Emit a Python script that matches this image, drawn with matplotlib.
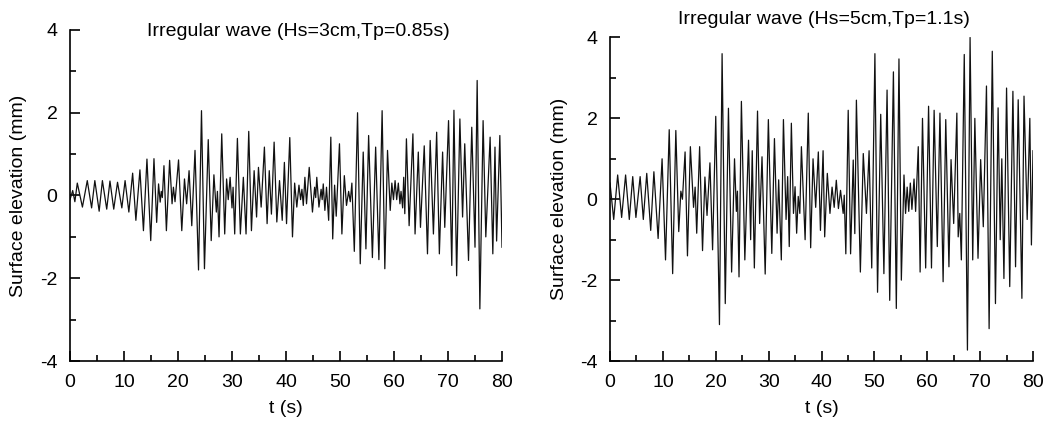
import numpy as np
import matplotlib
matplotlib.use('Agg')
import matplotlib.pyplot as plt
from matplotlib.ticker import MultipleLocator

plt.rcParams['font.family'] = ['Liberation Sans', 'DejaVu Sans']
plt.rcParams['axes.unicode_minus'] = False

# crests / troughs, Hs=3cm Tp=0.85s
t_3cm = [0.0, 0.5, 0.9, 1.35, 2.3, 3.2, 4.0, 4.6, 5.4, 6.0, 6.8, 7.4, 8.1, 8.8, 9.6, 10.2, 10.9, 11.6, 12.2, 12.95,
         13.6, 14.25, 14.95, 15.55, 16.05, 16.4, 16.7, 16.9, 17.1, 17.4, 17.85, 18.45, 18.9, 19.15, 19.45, 20.1, 20.7,
         21.2, 21.6, 22.05, 22.55, 23.15, 23.8, 24.35, 24.9, 25.6, 26.15, 26.65, 27.1, 27.3, 27.6, 28.1, 28.65, 29.0,
         29.3, 29.65, 30.0, 30.2, 30.5, 31.0, 31.55, 32.1, 32.6, 33.1, 33.6, 34.1, 34.55, 34.9, 35.4, 36.0, 36.5, 36.9,
         37.3, 37.8, 38.3, 38.8, 39.3, 39.7, 40.1, 40.7, 41.2, 41.6, 42.0, 42.4, 42.7, 42.95, 43.2, 43.5, 43.8, 44.3,
         44.9, 45.3, 45.5, 45.7, 46.1, 46.5, 46.7, 46.9, 47.2, 47.5, 47.9, 48.3, 48.65, 49.0, 49.3, 49.9, 50.35, 50.8,
         51.2, 51.6, 51.9, 52.2, 52.65, 53.25, 53.75, 54.3, 54.8, 55.3, 56.0, 56.6, 57.2, 57.8, 58.3, 58.8, 59.3, 59.6,
         59.9, 60.2, 60.5, 60.8, 61.1, 61.3, 61.6, 61.8, 62.0, 62.3, 62.8, 63.5, 63.9, 64.5, 64.9, 65.6, 66.2, 66.7,
         67.3, 67.9, 68.4, 69.0, 69.4, 70.1, 70.7, 71.1, 71.6, 72.2, 72.7, 73.1, 73.8, 74.4, 75.0, 75.4, 75.9, 76.5,
         77.0, 77.8, 78.3, 78.7, 79.0, 79.6, 80.0]
eta_3cm = [-0.1, 0.12, -0.15, 0.3, -0.28, 0.36, -0.3, 0.36, -0.38, 0.36, -0.33, 0.35, -0.33, 0.32, -0.3, 0.36, -0.4,
           0.54, -0.6, 0.62, -0.85, 0.88, -1.09, 0.89, -0.65, 0.28, -0.16, 0.1, -0.05, 0.72, -0.85, 0.85, -0.2, 0.2,
           -0.15, 0.86, -0.85, 0.4, -0.2, 0.6, -0.73, 1.09, -1.8, 2.05, -1.77, 1.35, -1.09, 0.5, -0.4, 0.1, -1.0, 1.49,
           -0.93, 0.4, -0.1, 0.44, -0.3, 0.2, -0.93, 1.38, -0.93, 0.44, -0.93, 1.55, -0.85, 0.6, -0.52, 0.68, -0.28,
           1.17, -0.68, 0.6, -0.45, 1.29, -0.64, 0.36, -0.6, 0.8, -0.68, 1.4, -1.0, 0.3, -0.28, 0.25, -0.1, 0.15, -0.24,
           0.44, -0.2, 0.68, -0.4, 0.2, -0.05, 0.44, -0.28, 0.15, -0.1, 0.28, -0.36, 0.2, -0.6, 1.41, -1.05, 0.25, -0.5,
           1.25, -0.93, 0.48, -0.24, 0.1, -0.15, 0.3, -1.35, 2.0, -1.65, 1.05, -1.29, 1.45, -1.5, 1.17, -1.55, 2.05,
           -1.77, 1.09, -0.36, 0.3, -0.1, 0.36, -0.1, 0.3, -0.2, 0.1, -0.3, 0.44, -0.44, 1.37, -0.73, 1.49, -0.93, 1.05,
           -0.77, 1.2, -1.41, 1.33, -0.93, 1.53, -1.41, 1.05, -0.77, 1.81, -1.69, 2.06, -1.94, 1.85, -0.52, 1.25, -1.57,
           1.65, -1.25, 2.78, -2.74, 1.81, -1.0, 1.41, -1.41, 1.17, -1.1, 1.45, -1.25]

# Hs=5cm Tp=1.1s
t_5cm = [0.0, 0.7, 1.45, 2.2, 2.95, 3.65, 4.3, 4.9, 5.7, 6.3, 6.95, 7.7, 8.3, 9.1, 9.85, 10.5, 11.2, 11.85, 12.45,
         13.0, 13.4, 13.7, 14.2, 14.65, 15.2, 15.8, 16.1, 16.4, 16.95, 17.5, 17.95, 18.35, 18.9, 19.4, 20.0, 20.7,
         21.2, 21.8, 22.4, 23.0, 23.55, 23.9, 24.1, 24.4, 24.85, 25.5, 26.2, 26.6, 26.9, 27.3, 27.9, 28.3, 28.75,
         29.35, 29.95, 30.6, 31.1, 31.6, 31.9, 32.4, 32.8, 33.3, 33.6, 33.9, 34.3, 34.7, 35.0, 35.3, 35.6, 35.9, 36.2,
         36.9, 37.5, 37.95, 38.4, 38.9, 39.4, 39.8, 40.3, 40.6, 41.1, 41.6, 42.0, 42.4, 42.8, 43.2, 43.6, 44.1, 44.3,
         44.6, 45.05, 45.5, 46.0, 46.3, 46.6, 47.35, 47.9, 48.5, 49.0, 49.5, 50.1, 50.6, 51.2, 51.8, 52.4, 52.9, 53.6,
         54.15, 54.65, 55.1, 55.6, 55.9, 56.2, 56.5, 56.8, 57.1, 57.5, 57.8, 58.3, 58.65, 59.1, 59.7, 60.25, 60.8,
         61.3, 61.9, 62.4, 63.0, 63.5, 64.1, 64.5, 65.0, 65.6, 65.85, 66.15, 66.45, 67.0, 67.6, 68.1, 68.6, 69.0, 69.6,
         70.1, 70.6, 71.2, 71.7, 72.3, 72.9, 73.4, 73.8, 74.1, 74.5, 75.0, 75.6, 76.2, 76.7, 77.2, 77.9, 78.3, 78.9,
         79.4, 79.7, 80.0]
eta_5cm = [0.4, -0.5, 0.6, -0.45, 0.6, -0.5, 0.56, -0.45, 0.56, -0.5, 0.64, -0.77, 0.68, -0.97, 1.0, -1.5, 1.72,
           -1.84, 1.7, -0.8, 0.2, 0.0, 1.17, -1.4, 1.3, -0.2, 0.3, -0.84, 1.3, -1.27, 0.55, -0.4, 0.9, -1.25, 2.05,
           -3.1, 3.6, -2.58, 2.25, -1.8, 1.0, -0.3, 0.2, -1.92, 2.42, -1.5, 1.46, -1.0, 1.2, -1.7, 2.18, -0.6, 1.05,
           -1.85, 1.97, -1.34, 1.5, -0.84, 0.48, -1.5, 1.97, -0.5, 0.56, -1.17, 1.88, -0.35, 0.31, -0.84, 0.07, -0.35,
           1.3, -1.0, 2.13, -1.2, 1.0, -0.2, 1.17, -0.77, 1.2, -0.93, 0.64, -0.35, 0.3, -0.2, 0.47, -0.23, 0.22, -0.35,
           0.1, -1.35, 2.2, -1.35, 0.97, -0.85, 2.45, -1.8, 1.13, -0.35, 1.2, -1.7, 3.6, -2.3, 2.1, -1.84, 2.7, -2.5,
           3.15, -2.7, 3.47, -2.0, 0.6, -0.35, 0.3, -0.3, 0.4, -0.25, 0.5, -0.3, 1.3, -1.8, 2.0, -1.7, 2.3, -1.7, 2.2,
           -1.17, 2.13, -2.04, 1.97, -1.67, 0.98, -0.6, 2.13, -0.93, -0.35, -1.5, 3.58, -3.73, 4.0, -1.5, 2.0, -1.46,
           0.98, -0.68, 2.8, -3.2, 3.66, -2.58, 2.26, -1.0, 1.0, -1.96, 2.75, -2.16, 2.67, -1.67, 2.46, -2.45, 2.55,
           -0.5, 2.0, -1.13, 1.2]

titles = ['Irregular wave (Hs=3cm,Tp=0.85s)', 'Irregular wave (Hs=5cm,Tp=1.1s)']


def style_axis(ax):
    ax.set_xlim(0, 80)
    ax.set_ylim(-4, 4)
    ax.xaxis.set_major_locator(MultipleLocator(10))
    ax.xaxis.set_minor_locator(MultipleLocator(5))
    ax.yaxis.set_major_locator(MultipleLocator(2))
    ax.yaxis.set_minor_locator(MultipleLocator(1))
    ax.spines['top'].set_visible(False)
    ax.spines['right'].set_visible(False)
    for s in ['left', 'bottom']:
        ax.spines[s].set_linewidth(1.2)
    ax.tick_params(which='major', direction='in', length=7, width=1.2, labelsize=14, pad=9)
    ax.tick_params(which='minor', direction='in', length=4, width=1.2)
    ax.tick_params(axis='x', which='major', pad=9)
    ax.set_xlabel('t (s)', fontsize=14, labelpad=7)
    ax.set_ylabel('Surface elevation (mm)', fontsize=14, labelpad=9)


fig = plt.figure(figsize=(10.48, 4.23), dpi=100)
ax1 = fig.add_axes([70/1048, 1-361/423, 432/1048, 331/423])
ax2 = fig.add_axes([610/1048, 1-361/423, 423/1048, 323.5/423])

ax1.plot(t_3cm, eta_3cm, color='#111111', lw=0.9)
ax2.plot(t_5cm, eta_5cm, color='#111111', lw=0.9)
style_axis(ax1)
style_axis(ax2)

fig.text(298/1048, 1-32/423, titles[0], fontsize=14, ha='center', va='center')
fig.text(824/1048, 1-20/423, titles[1], fontsize=14, ha='center', va='center')

fig.savefig('out.png', dpi=100, facecolor='white')
